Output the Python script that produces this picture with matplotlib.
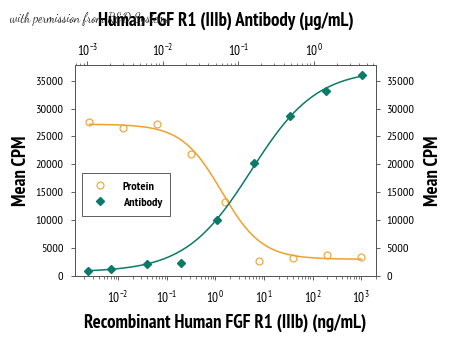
import numpy as np
import matplotlib
matplotlib.use("Agg")
import matplotlib.pyplot as plt
from matplotlib import font_manager
from matplotlib.ticker import LogLocator, FuncFormatter, NullFormatter, NullLocator
from matplotlib.lines import Line2D

# Protein dose (ng/mL, bottom axis) and antibody dose (ug/mL, top axis)
protein_conc = [0.00256, 0.0128, 0.064, 0.32, 1.6, 8, 40, 200, 1000]
protein_cpm = [27550, 26470, 27290, 21810, 13260, 2690, 3280, 3710, 3460]

antibody_conc = [0.00103, 0.00207, 0.00621, 0.0174, 0.0526, 0.161, 0.482, 1.445, 4.375]
antibody_cpm = [950, 1250, 2200, 2380, 10040, 20200, 28730, 33210, 35970]

# 4PL fit parameters: bottom, top, log EC50, hill (negative = falling)
protein_fit = (3000, 27200, 0.13, -1.05)
antibody_fit = (700, 37000, -0.833, 1.0)

orange = '#F0A030'
teal = '#0B7A68'

installed = {f.name for f in font_manager.fontManager.ttflist}


def first_font(options, default):
    for name in options:
        if name in installed:
            return name
    return default


narrow = first_font(['PT Sans Narrow', 'Roboto Condensed', 'Fira Sans Condensed',
                     'Archivo Narrow', 'Asap Condensed', 'Liberation Sans Narrow'],
                    'DejaVu Sans')
script = first_font(['Dancing Script', 'Homemade Apple', 'Caveat'], 'Liberation Serif')
plt.rcParams['font.family'] = [narrow, 'DejaVu Sans']
plt.rcParams['mathtext.fontset'] = 'custom'
plt.rcParams['mathtext.rm'] = narrow


def logistic(logx, bottom, top, c, h):
    return bottom + (top - bottom) / (1 + 10 ** (h * (c - logx)))


def pow_fmt(v, pos):
    e = int(round(np.log10(v)))
    return r'$\mathregular{10^{%d}}$' % e


fig = plt.figure(figsize=(4.5, 3.39), dpi=100)
ax = fig.add_axes([0.1667, 0.1858, 0.6689, 0.6225])
axt = ax.twiny()
axr = ax.twinx()

# protein curve on the bottom (ng/mL) scale
ax.set_xscale('log')
ax.set_xlim(10 ** -2.889, 10 ** 3.305)
lx = np.linspace(np.log10(protein_conc[0]), np.log10(protein_conc[-1]), 300)
ax.plot(10 ** lx, logistic(lx, *protein_fit), color=orange, lw=1.1)
ax.plot(protein_conc, protein_cpm, 'o', mfc='none', mec=orange, mew=0.8, ms=5)

# antibody curve on the top (ug/mL) scale
axt.set_xscale('log')
axt.set_xlim(10 ** -3.164, 10 ** 0.822)
lx = np.linspace(np.log10(antibody_conc[0]), np.log10(antibody_conc[-1]), 300)
axt.plot(10 ** lx, logistic(lx, *antibody_fit), color=teal, lw=1.1)
axt.plot(antibody_conc, antibody_cpm, 'D', color=teal, ms=4.2)

yticks = np.arange(0, 35001, 5000)
for a in (ax, axr):
    a.set_ylim(0, 37800)
    a.set_yticks(yticks)
    a.set_yticklabels([str(v) for v in yticks])
    a.yaxis.set_minor_locator(NullLocator())

for a in (ax, axt):
    a.xaxis.set_major_locator(LogLocator(base=10, numticks=20))
    a.xaxis.set_minor_locator(LogLocator(base=10, subs=np.arange(2, 10), numticks=20))
    a.xaxis.set_major_formatter(FuncFormatter(pow_fmt))
    a.xaxis.set_minor_formatter(NullFormatter())

for a in (ax, axt, axr):
    a.tick_params(which='major', direction='out', length=3, width=0.6,
                  labelsize=9.5, color='#444444', pad=2)
    a.tick_params(which='minor', direction='out', length=1.8, width=0.5,
                  color='#444444')
    for s in a.spines.values():
        s.set_color('#555555')
        s.set_linewidth(0.7)
ax.tick_params(axis='x', pad=7)
axt.tick_params(axis='x', pad=1.5)
ax.tick_params(axis='y', labelsize=8.8, pad=5.5)
axr.tick_params(axis='y', labelsize=8.8, pad=4.5)

lab = dict(fontsize=13.5, fontweight='bold')
ax.set_xlabel('Recombinant Human FGF R1 (IIIb) (ng/mL)', labelpad=6, **lab)
ax.set_ylabel('Mean CPM', labelpad=4, **lab)
axr.set_ylabel('Mean CPM', labelpad=7, **lab)
axt.set_xlabel('Human FGF R1 (IIIb) Antibody (\u03bcg/mL)', labelpad=12, **lab)

handles = [
    Line2D([], [], ls='none', marker='o', mfc='none', mec=orange, mew=0.8, ms=5),
    Line2D([], [], ls='none', marker='D', color=teal, ms=4.2),
]
leg = axr.legend(handles, ['Protein', 'Antibody'], loc='upper left',
                 bbox_to_anchor=(0.023, 0.488), borderaxespad=0,
                 prop={'family': [narrow, 'DejaVu Sans'], 'weight': 'bold', 'size': 8.8},
                 frameon=True, fancybox=False, edgecolor='#333333',
                 borderpad=0.65, handletextpad=1.1, labelspacing=0.45,
                 handlelength=1.6)
leg.get_frame().set_linewidth(0.7)

fig.text(0.022, 0.945, 'with permission from R&D Systems', fontsize=9,
         family=[script, 'DejaVu Serif'], color='#222222', va='center')

fig.savefig('out.png', dpi=100)
